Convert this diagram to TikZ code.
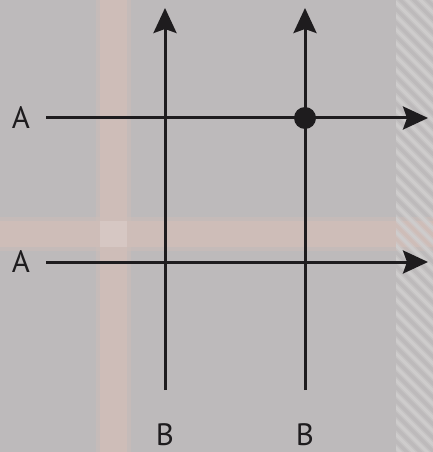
\documentclass[tikz,border=0pt]{standalone}
\usepackage{fontspec}
\setmainfont{PT Sans}
\usetikzlibrary{arrows.meta}
\definecolor{bggray}{RGB}{189,186,187}
\definecolor{bandpink}{RGB}{206,189,184}
\definecolor{hatchlight}{RGB}{206,204,204}
\definecolor{ink}{RGB}{30,28,30}
\tikzset{
  axisarrow/.style={draw=ink, line width=3bp,
    -{Stealth[length=25bp,width=23bp,inset=4bp]}},
  lbl/.style={text=ink, font=\fontsize{31}{31}\selectfont, inner sep=0pt, anchor=base},
  junction/.style={circle, fill=ink, minimum size=22bp, inner sep=0pt},
}
\begin{document}
\begin{tikzpicture}[x=1bp,y=-1bp]
  % canvas
  \fill[bggray] (0,0) rectangle (433,452);
  \useasboundingbox (0,0) rectangle (433,452);
  % soft tinted bands: faint halo, then core
  \fill[bandpink, opacity=0.5] (96,0) rectangle (131,452);
  \fill[bandpink, opacity=0.5] (0,217) rectangle (433,251);
  \fill[bandpink] (100,0) rectangle (127,452);
  \fill[bandpink] (0,221) rectangle (433,247);
  \fill[bandpink!60!white, opacity=0.4] (100,221) rectangle (127,247);
  % hatched strip on the right edge
  \begin{scope}
    \clip (396,0) rectangle (433,452);
    \foreach \k in {-5,...,36} {
      \draw[hatchlight, line width=6bp, opacity=0.5] (380,\k*13.5) -- ++(70,70);
      \draw[hatchlight, line width=3bp] (380,\k*13.5) -- ++(70,70);
    }
  \end{scope}
  % anchor points of the axes
  \coordinate (h1s) at (46,118);
  \coordinate (h1e) at (428,118);
  \coordinate (h2s) at (46,262);
  \coordinate (h2e) at (428,262);
  \coordinate (v1s) at (165,390);
  \coordinate (v1e) at (165,8);
  \coordinate (v2s) at (305,390);
  \coordinate (v2e) at (305,8);
  % axes
  \draw[axisarrow] (h1s) -- (h1e);
  \draw[axisarrow] (h2s) -- (h2e);
  \draw[axisarrow] (v1s) -- (v1e);
  \draw[axisarrow] (v2s) -- (v2e);
  \node[junction] (dot) at (305,118) {};
  % labels
  \node[lbl] (a1) at (21,128.5) {A};
  \node[lbl] (a2) at (21,272.5) {A};
  \node[lbl] (b1) at (165,445) {B};
  \node[lbl] (b2) at (305,445) {B};
\end{tikzpicture}
\end{document}
